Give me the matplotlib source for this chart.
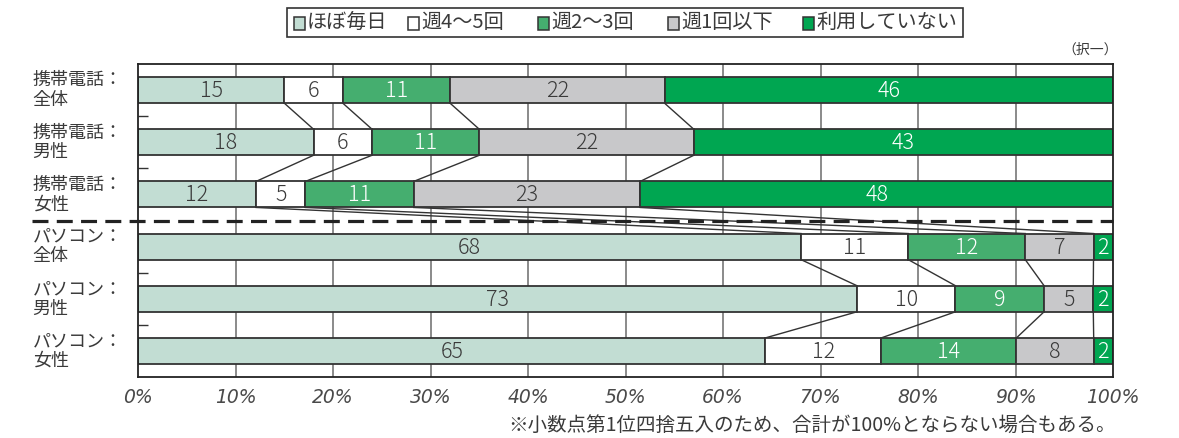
import matplotlib
matplotlib.use("Agg")
import matplotlib.pyplot as plt
import numpy as np
from matplotlib.patches import Rectangle

plt.rcParams['font.family'] = ['Noto Sans CJK JP', 'DejaVu Sans']

# Usage frequency by device and gender (%)
row_labels = ["携帯電話：\n全体", "携帯電話：\n男性", "携帯電話：\n女性",
              "パソコン：\n全体", "パソコン：\n男性", "パソコン：\n女性"]
series_names = ["ほぼ毎日", "週4～5回", "週2～3回", "週1回以下", "利用していない"]
daily = [15, 18, 12, 68, 73, 65]
w4_5 = [6, 6, 5, 11, 10, 12]
w2_3 = [11, 11, 11, 12, 9, 14]
w1_less = [22, 22, 23, 7, 5, 8]
not_used = [46, 43, 48, 2, 2, 2]
x_ticklabels = ["0%", "10%", "20%", "30%", "40%", "50%", "60%", "70%", "80%", "90%", "100%"]

colors = ["#c2ddd3", "#ffffff", "#45ae6f", "#c8c8ca", "#00a651"]
text_colors = ["#3a3a3a", "#3a3a3a", "#ffffff", "#3a3a3a", "#ffffff"]
edge = "#333333"

values = np.array([daily, w4_5, w2_3, w1_less, not_used], dtype=float).T
# 100% stacked: each row is scaled to its own total
shares = values / values.sum(axis=1, keepdims=True) * 100
cum = np.cumsum(shares, axis=1)
starts = cum - shares

fig = plt.figure(figsize=(11.79, 4.38), dpi=100)
ax = fig.add_axes([138 / 1179, 1 - 377 / 438, 975 / 1179, 313 / 438])

n = len(row_labels)
ypos = np.arange(n)
bar_h = 0.5

ax.set_xlim(0, 100)
ax.set_ylim(n - 0.5, -0.5)

for x in range(10, 100, 10):
    ax.axvline(x, color="#777777", lw=1.2, zorder=0)

for i in range(n):
    for j in range(len(series_names)):
        ax.barh(ypos[i], shares[i, j], left=starts[i, j], height=bar_h,
                color=colors[j], edgecolor=edge, linewidth=1.3, zorder=2)
        ax.text(starts[i, j] + shares[i, j] / 2, ypos[i] + 0.02, f"{int(values[i, j])}",
                ha="center", va="center", fontsize=15.5, color=text_colors[j],
                zorder=4, fontweight="light")

# connector lines between neighbouring bars
for i in range(n - 1):
    for j in range(len(series_names) - 1):
        ax.plot([cum[i, j], cum[i + 1, j]],
                [ypos[i] + bar_h / 2, ypos[i + 1] - bar_h / 2],
                color="#333333", lw=1.0, zorder=1)

# separator between devices
ax.plot([-10.9, 100], [2.5, 2.5], color="#222222", lw=2.3, ls=(0, (5, 2.6)),
        zorder=5, clip_on=False)

ax.set_xticks(np.arange(0, 101, 10))
ax.set_xticklabels(x_ticklabels, fontsize=13.5, color="#4a4a4a", style="italic",
                   family="DejaVu Sans")
ax.tick_params(axis="x", length=0, pad=8)
ax.set_yticks(ypos)
ax.set_yticklabels([])
ax.tick_params(axis="y", length=0)
ax.set_yticks([0.5, 1.5, 3.5, 4.5], minor=True)
ax.tick_params(axis="y", which="minor", direction="in", length=7, width=1, color="#333333")

for i, lab in enumerate(row_labels):
    ax.text(-0.108, 1 - (i + 0.5) / n, lab, transform=ax.transAxes, ha="left",
            va="center", fontsize=13, color="#3a3a3a", linespacing=1.1)

for sp in ax.spines.values():
    sp.set_color("#222222")
    sp.set_linewidth(1.3)

# legend
lx0, ly0, lx1, ly1 = 287, 8, 963, 37
fig.patches.append(Rectangle((lx0 / 1179, 1 - ly1 / 438), (lx1 - lx0) / 1179, (ly1 - ly0) / 438,
                             transform=fig.transFigure, fill=False, edgecolor="#333333", lw=1.2))
item_x = [294, 408, 538, 668, 803]
for xx, name, c in zip(item_x, series_names, colors):
    fig.patches.append(Rectangle((xx / 1179, 1 - 29.5 / 438), 11 / 1179, 13 / 438,
                                 transform=fig.transFigure, facecolor=c, edgecolor="#333333", lw=1.1))
    fig.text((xx + 13) / 1179, 1 - 22.5 / 438, name, ha="left", va="center",
             fontsize=14.5, color="#3a3a3a")

fig.text(1118 / 1179, 1 - 50 / 438, "（択一）", ha="right", va="center", fontsize=10, color="#3a3a3a")
fig.text(1116 / 1179, 1 - 425 / 438, "※小数点第1位四捨五入のため、合計が100%とならない場合もある。",
         ha="right", va="center", fontsize=14, color="#3a3a3a")

fig.savefig("out.png", dpi=100)
